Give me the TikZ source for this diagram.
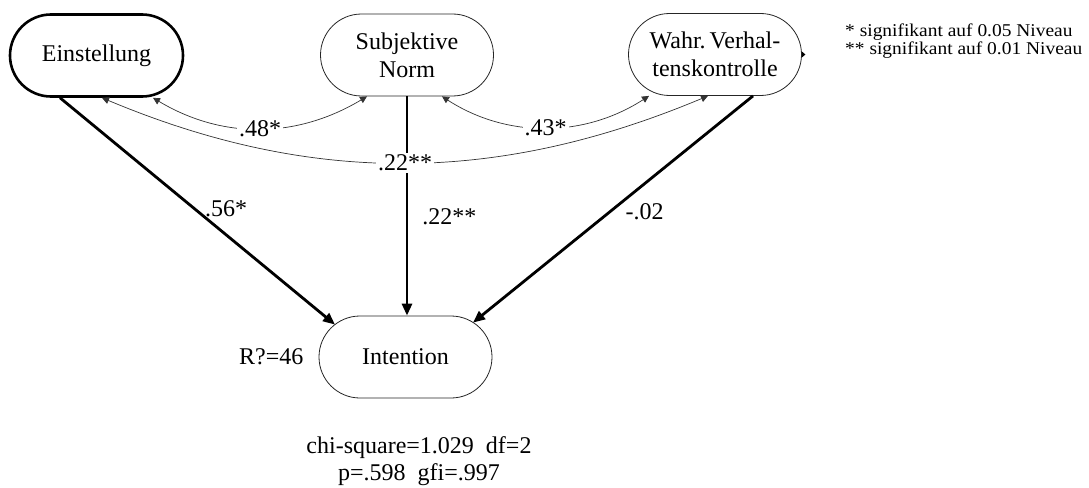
\documentclass[tikz,border=0pt]{standalone}
\usepackage{fontspec}
\usepackage{graphicx}
\setmainfont{Liberation Serif}
\usetikzlibrary{arrows.meta,positioning,shapes.misc}
\begin{document}
\begin{tikzpicture}[x=1pt,y=-1pt,
  latent/.style={draw=black!85, line width=0.8pt, rounded rectangle,
    minimum width=173pt, minimum height=82pt, align=center, inner sep=0pt,
    font=\fontsize{24}{28}\selectfont},
  strongbox/.style={latent, draw=black, line width=2.6pt},
  patharrow/.style={line width=2.8pt, -{Triangle[length=12pt,width=10pt]}},
  cov/.style={line width=0.7pt, draw=black!80,
    {Triangle[length=7pt,width=7pt]}-{Triangle[length=7pt,width=7pt]}},
  lbl/.style={font=\fontsize{24}{28}\selectfont, inner sep=1pt},
  covlbl/.style={lbl, fill=white, inner sep=2pt}]
\useasboundingbox (0,0) rectangle (1089,487);

% nodes
\node[strongbox] (ein) at (96.5,55.5) {Einstellung};
\node[latent] (sub) at (407,55) {Subjektive\\Norm};
\node[latent] (wahr) at (715,54.5) {Wahr.\,Verhal-\\tenskontrolle};
\node[latent] (int) at (405.5,357) {Intention};

% paths to intention
\draw[patharrow] ([xshift=-36.5pt]ein.south) -- ([xshift=-70.5pt,yshift=-9pt]int.north)
  node[pos=0.49, anchor=west, xshift=8pt, lbl] (l56) {.56*};
\draw[patharrow] (sub.south) -- (sub.south |- int.north)
  node[pos=0.55, anchor=west, xshift=13pt, lbl] (l22b) {.22**};
\draw[patharrow] ([xshift=38pt]wahr.south) -- ([xshift=67.5pt,yshift=-7pt]int.north)
  node[pos=0.51, anchor=west, xshift=13pt, lbl] (l02) {-.02};

% covariances
\draw[cov] ([xshift=56.5pt]ein.south) .. controls +(70,42) and +(-70,42) .. ([xshift=-40pt]sub.south)
  node[pos=0.5, covlbl] (l48) {.48*};
\draw[cov] ([xshift=35pt]sub.south) .. controls +(65,42) and +(-65,42) .. ([xshift=-66pt]wahr.south)
  node[pos=0.5, covlbl] (l43) {.43*};
\draw[cov] ([xshift=5.5pt]ein.south) .. controls +(210,88) and +(-210,88) .. ([xshift=-7pt]wahr.south)
  node[pos=0.5, covlbl] (l22a) {.22**};

% small mark at right of Wahr node
\fill ([yshift=3pt]wahr.east) -- ([xshift=3.5pt]wahr.east) -- ([yshift=-3pt]wahr.east) -- cycle;

% R squared
\node[lbl, anchor=east] (r2) at ([xshift=-14pt]int.west) {R?=46};

% fit statistics
\node[lbl, align=center, font=\fontsize{24}{27}\selectfont] (fitstats) at (419,461)
  {chi-square=1.029~~df=2\\p=.598~~gfi=.997};

% legend
\node[anchor=west, align=left, font=\fontsize{18}{18}\selectfont, inner sep=0pt] (legend) at (845,41)
  {\scalebox{1.08}[1]{* signifikant auf 0.05 Niveau}\\\scalebox{1.08}[1]{** signifikant auf 0.01 Niveau}};
\end{tikzpicture}
\end{document}
